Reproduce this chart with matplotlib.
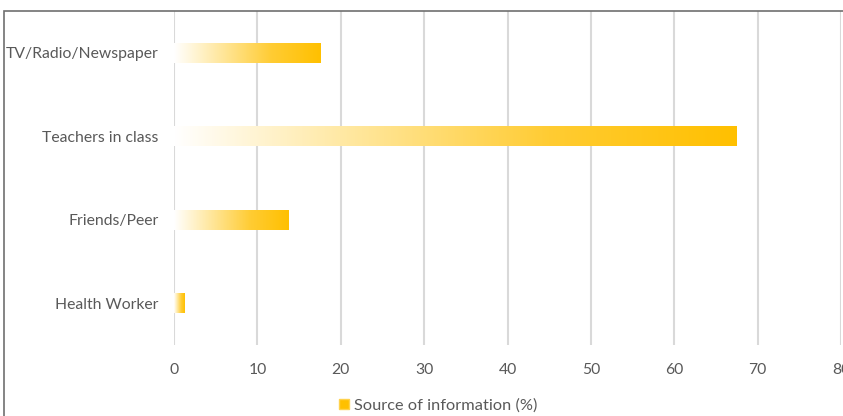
import matplotlib
matplotlib.use("Agg")
import matplotlib.pyplot as plt
import numpy as np
from matplotlib.colors import LinearSegmentedColormap
from matplotlib.patches import Rectangle
from matplotlib.lines import Line2D

categories = ["TV/Radio/Newspaper", "Teachers in class", "Friends/Peer", "Health Worker"]
values = [17.6, 67.5, 13.7, 1.2]
xticks = [0, 10, 20, 30, 40, 50, 60, 70, 80]
series_name = "Source of information (%)"

W, H = 843, 416
fig = plt.figure(figsize=(W / 100, H / 100), dpi=100)
ax = fig.add_axes([174 / W, 1 - 345 / H, (841 - 174) / W, (345 - 11) / H])

grey = "#595959"
cmap = LinearSegmentedColormap.from_list("g", ["#FFFFFF", "#FFE699", "#FFCC33", "#FFC000"])
grad = np.linspace(0, 1, 256).reshape(1, -1)

ypos = np.arange(len(categories))
bar_h = 0.24
bars = ax.barh(ypos, values, height=bar_h, color="none", edgecolor="none", zorder=3)
for b in bars:
    x0, y0 = b.get_x(), b.get_y()
    w, h = b.get_width(), b.get_height()
    im = ax.imshow(grad, cmap=cmap, aspect="auto", extent=(x0, x0 + w, y0 + h, y0),
                   zorder=3, interpolation="bilinear")
    im.set_clip_path(b)

ax.set_xlim(0, 80)
ax.set_ylim(len(categories) - 0.5, -0.5)
ax.set_xticks(xticks)
ax.set_xticklabels([str(t) for t in xticks])
ax.set_yticks(ypos)
ax.set_yticklabels(categories)
ax.grid(axis="x", color="#D9D9D9", linewidth=1.5, zorder=0)
ax.set_axisbelow(True)
for s in ax.spines.values():
    s.set_visible(False)
ax.tick_params(axis="both", length=0, colors=grey, labelsize=11.3)
ax.tick_params(axis="x", pad=13)
ax.tick_params(axis="y", pad=11)
for lbl in ax.get_xticklabels() + ax.get_yticklabels():
    lbl.set_fontfamily("Lato")
    lbl.set_color(grey)

# chart area border (partially visible)
fig.add_artist(Rectangle((4 / W, -0.1), 1.2, 1 - 11 / H + 0.1, transform=fig.transFigure,
                         fill=False, edgecolor="#6F6F6F", linewidth=1.2))

# legend
handle = Line2D([], [], marker="s", linestyle="none", markersize=7,
                markerfacecolor="#FFC000", markeredgecolor="#FFD24D")
leg = fig.legend([handle], [series_name], loc="center", bbox_to_anchor=(438 / W, 1 - 405 / H),
                 frameon=False, handlelength=0.6, handletextpad=0.3,
                 prop={"family": "Lato", "size": 11.8})
for t in leg.get_texts():
    t.set_color(grey)

fig.savefig("out.png", dpi=100)
